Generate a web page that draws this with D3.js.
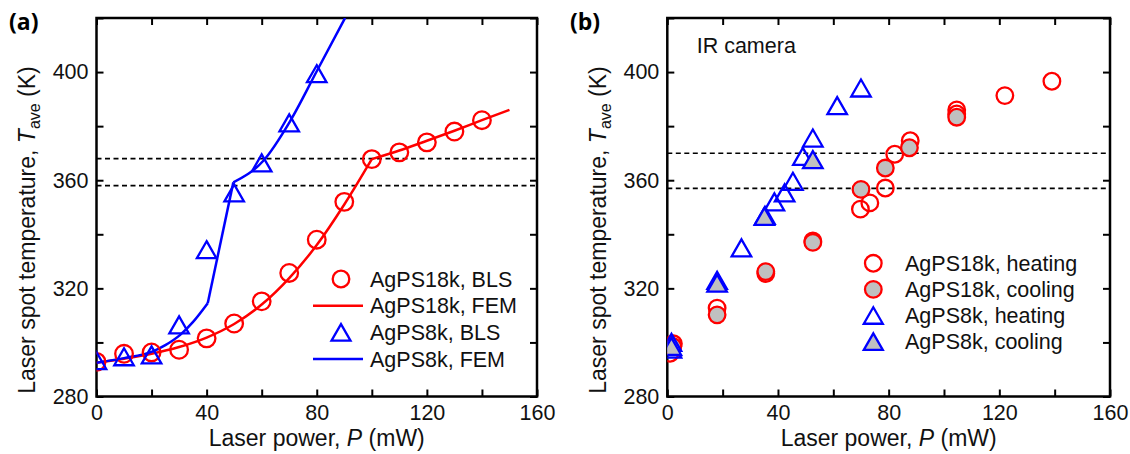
<!DOCTYPE html>
<html>
<head>
<meta charset="utf-8">
<script src="https://cdn.jsdelivr.net/npm/d3@7/dist/d3.min.js"></script>
<style>
  body { margin: 0; background: #fff; }
  svg { display: block; font-family: "Liberation Sans", Arial, sans-serif; }
</style>
</head>
<body>
<svg id="app" width="1130" height="454"></svg>
<script>
`use strict`;

// axes
const xTicks = [0, 20, 40, 60, 80, 100, 120, 140, 160];
const yTicks = [280, 300, 320, 340, 360, 380, 400, 420];

// (a) BLS + FEM
const blsPower18k = [0, 10, 20, 30, 40, 50, 60, 70, 80, 90, 100, 110, 120, 130, 140];
const blsTemp18k  = [292.8, 295.8, 296.3, 297.3, 301.5, 307, 315.2, 325.7, 338, 352, 367.8, 370.3, 374, 378, 382.2];
const blsPower8k  = [0, 10, 20, 30, 40, 50, 60, 70, 80];
const blsTemp8k   = [293.3, 294.7, 295.4, 306.5, 334.3, 355.3, 366.4, 381.2, 399.4];
const femPower18k = [0, 10, 20, 30, 40, 50, 60, 70, 80, 90, 100, 110, 120, 130, 140, 150];
const femTemp18k  = [292.5, 294, 295.8, 298.3, 301.8, 306.8, 314, 323.8, 336, 351, 367.8, 371, 374.6, 378.3, 382.2, 386];
const femKinks18k = [10];               // index of the slope break
const femPower8k  = [0, 10, 20, 25, 30.4, 35, 40.4, 49.7, 60.6, 70.3, 80, 90.3];
const femTemp8k   = [292.5, 294.2, 296.5, 299, 302.8, 307.5, 314.5, 359.2, 367.2, 381.8, 400.3, 420];
const femKinks8k  = [6, 7];
const dashA = [358, 368];

// (b) IR camera
const heatPower18k = [1, 2.2, 18, 35.6, 52.6, 69.8, 73.2, 78.8, 82.2, 87.8, 104.6, 104.6, 122, 139];
const heatTemp18k  = [296, 299.5, 312.7, 325.5, 337.5, 349.3, 351.6, 357.1, 369.6, 374.6, 386, 384.5, 391.3, 396.6];
const coolPower18k = [2, 18, 35.6, 52.6, 70, 78.8, 87.5, 104.6];
const coolTemp18k  = [298.5, 310.2, 326.2, 337, 356.6, 364.5, 372, 383.3];
const heatPower8k  = [1.5, 1.5, 18, 26.8, 35.3, 38.7, 42.4, 45.4, 49, 52.6, 61.4, 70];
const heatTemp8k   = [297.5, 300, 323, 335, 347, 352, 355.3, 359.6, 368.8, 375.6, 387.6, 394.1];
const coolPower8k  = [1.5, 18, 35.1, 52.6];
const coolTemp8k   = [298.5, 321.9, 346.6, 367.6];
const dashB = [357, 370];

const legendA = [`AgPS18k, BLS`, `AgPS18k, FEM`, `AgPS8k, BLS`, `AgPS8k, FEM`];
const legendB = [`AgPS18k, heating`, `AgPS18k, cooling`, `AgPS8k, heating`, `AgPS8k, cooling`];

const RED = `#ff0000`, BLUE = `#0000ff`, GREY = `#c0c0c0`;

const svg = d3.select(`#app`);

const zip = (A, B) => A.map((a, i) => [a, B[i]]);

// split a polyline at kink indices (kink points are shared by both sides)
const split = (D, K) => {
  const cuts = [0, ...K, D.length - 1];
  return cuts.slice(1).map((c, i) => D.slice(cuts[i], c + 1));
};

const tri = (w, h) => `M0,${-h / 2}L${w / 2},${h / 2}L${-w / 2},${h / 2}Z`;

function panel (Arg) {

  const x = d3.scaleLinear().domain([0, 160]).range([Arg.left, Arg.right]);
  const y = d3.scaleLinear().domain([280, 420]).range([396.5, 18]);

  const g = svg.append(`g`);

  g.append(`clipPath`).attr(`id`, `clip-` + Arg.id)
    .append(`rect`).attr(`x`, x(0)).attr(`y`, y(420)).attr(`width`, x(160) - x(0)).attr(`height`, y(280) - y(420));

  const lab = (d, step) => d % step === 0 ? d : ``;

  const axes = [
    [d3.axisBottom(x).tickValues(xTicks).tickFormat(d => lab(d, 40)), `translate(0,${y(280)})`],
    [d3.axisTop(x).tickValues(xTicks).tickFormat(``), `translate(0,${y(420)})`],
    [d3.axisLeft(y).tickValues(yTicks).tickFormat(d => lab(d - 280, 40) === `` ? `` : d), `translate(${x(0)},0)`],
    [d3.axisRight(y).tickValues(yTicks).tickFormat(``), `translate(${x(160)},0)`]
  ];

  axes.forEach(A => {
    const ax = g.append(`g`).attr(`transform`, A[1])
      .call(A[0].tickSizeInner(-7).tickSizeOuter(0).tickPadding(8));
    ax.select(`.domain`).remove();
    ax.selectAll(`line`).attr(`stroke`, `#000`).attr(`stroke-width`, 2);
    ax.selectAll(`text`).attr(`font-size`, `21.5px`).attr(`fill`, `#111`).attr(`font-family`, null);
  });

  g.append(`rect`)
    .attr(`x`, x(0)).attr(`y`, y(420)).attr(`width`, x(160) - x(0)).attr(`height`, y(280) - y(420))
    .attr(`fill`, `none`).attr(`stroke`, `#000`).attr(`stroke-width`, 2.5);

  g.selectAll(`.dash`).data(Arg.dash).enter().append(`line`)
    .attr(`x1`, x(0)).attr(`x2`, x(160)).attr(`y1`, d => y(d)).attr(`y2`, d => y(d))
    .attr(`stroke`, `#000`).attr(`stroke-width`, 1.6).attr(`stroke-dasharray`, `5,3.5`);

  const plot = g.append(`g`).attr(`clip-path`, `url(#clip-${Arg.id})`);

  const line = d3.line().x(d => x(d[0])).y(d => y(d[1])).curve(d3.curveMonotoneX);

  (Arg.lines || []).forEach(L => {
    split(L.data, L.kinks).forEach(seg => {
      plot.append(`path`).datum(seg).attr(`d`, line)
        .attr(`fill`, `none`).attr(`stroke`, L.color).attr(`stroke-width`, 2.5).attr(`stroke-linejoin`, `round`);
    });
  });

  Arg.marks.forEach(M => {
    const sel = plot.selectAll(null).data(M.data).enter();
    if (M.shape === `circle`) {
      sel.append(`circle`).attr(`cx`, d => x(d[0])).attr(`cy`, d => y(d[1])).attr(`r`, M.r)
        .attr(`fill`, M.fill).attr(`stroke`, M.color).attr(`stroke-width`, 2.3);
    } else {
      sel.append(`path`).attr(`d`, tri(M.w, M.h)).attr(`transform`, d => `translate(${x(d[0])},${y(d[1])})`)
        .attr(`fill`, M.fill).attr(`stroke`, M.color).attr(`stroke-width`, 2.3).attr(`stroke-linejoin`, `miter`);
    }
  });

  // legend
  const lg = g.append(`g`);
  Arg.legend.forEach((item, i) => {
    const cy = Arg.legY + i * Arg.legStep;
    if (item.kind === `line`) {
      lg.append(`line`).attr(`x1`, Arg.legX - 28).attr(`x2`, Arg.legX + 22).attr(`y1`, cy).attr(`y2`, cy)
        .attr(`stroke`, item.color).attr(`stroke-width`, 2.5);
    } else if (item.kind === `circle`) {
      lg.append(`circle`).attr(`cx`, Arg.legX).attr(`cy`, cy).attr(`r`, 8.3)
        .attr(`fill`, item.fill).attr(`stroke`, item.color).attr(`stroke-width`, 2.3);
    } else {
      lg.append(`path`).attr(`d`, tri(19, 16.5)).attr(`transform`, `translate(${Arg.legX},${cy})`)
        .attr(`fill`, item.fill).attr(`stroke`, item.color).attr(`stroke-width`, 2.3);
    }
    lg.append(`text`).attr(`x`, Arg.legTextX).attr(`y`, cy + 7.7)
      .attr(`font-size`, `21.5px`).attr(`fill`, `#111`).text(item.label);
  });

  // axis titles
  const xt = g.append(`text`).attr(`x`, (x(0) + x(160)) / 2).attr(`y`, 446)
    .attr(`text-anchor`, `middle`).attr(`font-size`, `23px`).attr(`fill`, `#111`);
  xt.append(`tspan`).text(`Laser power, `);
  xt.append(`tspan`).attr(`font-style`, `italic`).text(`P`);
  xt.append(`tspan`).text(` (mW)`);

  const yt = g.append(`text`).attr(`transform`, `translate(${x(0) - 61.5},230) rotate(-90)`)
    .attr(`text-anchor`, `middle`).attr(`font-size`, `23px`).attr(`fill`, `#111`);
  yt.append(`tspan`).text(`Laser spot temperature, `);
  yt.append(`tspan`).attr(`font-style`, `italic`).text(`T`);
  yt.append(`tspan`).attr(`font-size`, `16px`).attr(`dy`, 5).text(`ave`);
  yt.append(`tspan`).attr(`dy`, -5).text(` (K)`);

  g.append(`text`).attr(`x`, Arg.tagX).attr(`y`, 30)
    .attr(`font-family`, `"Open Sans", "Liberation Sans", sans-serif`).attr(`font-weight`, `bold`)
    .attr(`font-size`, `23px`).attr(`fill`, `#000`).text(Arg.tag);
}

panel({
  id: `a`, tag: `(a)`, tagX: 9, left: 96.5, right: 537, dash: dashA,
  lines: [
    {data: zip(femPower18k, femTemp18k), kinks: femKinks18k, color: RED},
    {data: zip(femPower8k, femTemp8k), kinks: femKinks8k, color: BLUE}
  ],
  marks: [
    {shape: `circle`, data: zip(blsPower18k, blsTemp18k), r: 8.8, fill: `none`, color: RED},
    {shape: `tri`, data: zip(blsPower8k, blsTemp8k), w: 19.5, h: 17, fill: `none`, color: BLUE}
  ],
  legX: 341, legTextX: 370, legY: 279, legStep: 26.7,
  legend: [
    {kind: `circle`, color: RED, fill: `none`, label: legendA[0]},
    {kind: `line`, color: RED, label: legendA[1]},
    {kind: `tri`, color: BLUE, fill: `none`, label: legendA[2]},
    {kind: `line`, color: BLUE, label: legendA[3]}
  ]
});

panel({
  id: `b`, tag: `(b)`, tagX: 570, left: 667.3, right: 1110, dash: dashB,
  marks: [
    {shape: `circle`, data: zip(heatPower18k, heatTemp18k), r: 8.3, fill: `none`, color: RED},
    {shape: `circle`, data: zip(coolPower18k, coolTemp18k), r: 8.3, fill: GREY, color: RED},
    {shape: `tri`, data: zip(heatPower8k, heatTemp8k), w: 19.5, h: 17, fill: `none`, color: BLUE},
    {shape: `tri`, data: zip(coolPower8k, coolTemp8k), w: 19.5, h: 17, fill: GREY, color: BLUE}
  ],
  legX: 873.3, legTextX: 905, legY: 263.3, legStep: 26.1,
  legend: [
    {kind: `circle`, color: RED, fill: `none`, label: legendB[0]},
    {kind: `circle`, color: RED, fill: GREY, label: legendB[1]},
    {kind: `tri`, color: BLUE, fill: `none`, label: legendB[2]},
    {kind: `tri`, color: BLUE, fill: GREY, label: legendB[3]}
  ]
});

svg.append(`text`).attr(`x`, 696.7).attr(`y`, 53).attr(`font-size`, `21.5px`).attr(`fill`, `#111`).text(`IR camera`);
</script>
</body>
</html>
